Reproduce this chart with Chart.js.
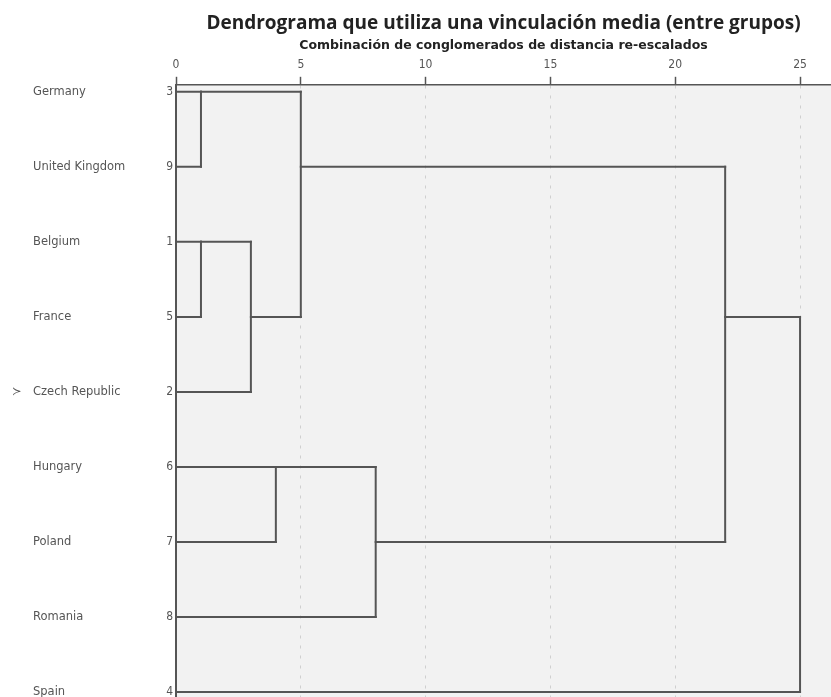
<!DOCTYPE html>
<html>
<head>
<meta charset="utf-8">
<script src="https://cdn.jsdelivr.net/npm/chart.js@4.4.0/dist/chart.umd.min.js"></script>
<style>
html,body{margin:0;padding:0;background:#ffffff;}
#wrap{width:831px;height:697px;}
</style>
</head>
<body>
<div id="wrap"><canvas id="c" width="831" height="697"></canvas></div>
<script>
// ---- data ----
const chartTitle = 'Dendrograma que utiliza una vinculación media (entre grupos)';
const axisTitle = 'Combinación de conglomerados de distancia re-escalados';
const countries = ['Germany', 'United Kingdom', 'Belgium', 'France', 'Czech Republic', 'Hungary', 'Poland', 'Romania', 'Spain'];
const caseNumbers = ['3', '9', '1', '5', '2', '6', '7', '8', '4'];
const markedRow = 4;
const markSymbol = '≻';
const xTickValues = [0, 5, 10, 15, 20, 25];
// agglomeration schedule: ids 0-8 are rows, id 9+s is the cluster formed at stage s
const linkFirst = [0, 2, 10, 5, 9, 12, 13, 15];
const linkSecond = [1, 3, 4, 6, 11, 7, 14, 8];
const linkDistance = [1, 1, 3, 4, 5, 8, 22, 25];

// ---- build dendrogram segments from the schedule ----
const nodes = countries.map((_, i) => ({ row: i, x: 0 }));
const segments = [];
linkDistance.forEach((d, s) => {
  const a = nodes[linkFirst[s]];
  const b = nodes[linkSecond[s]];
  segments.push([{ x: a.x, y: a.row }, { x: d, y: a.row }]);
  segments.push([{ x: b.x, y: b.row }, { x: d, y: b.row }]);
  segments.push([{ x: d, y: a.row }, { x: d, y: b.row }]);
  nodes.push({ row: Math.floor((a.row + b.row) / 2), x: d });
});

const LINE = '#555555';
const datasets = segments.map(seg => ({
  type: 'line',
  data: seg,
  xAxisID: 'x',
  yAxisID: 'yCase',
  borderColor: LINE,
  borderWidth: 2,
  borderCapStyle: 'square',
  pointRadius: 0,
  pointHoverRadius: 0,
  fill: false,
  tension: 0
}));

const plotBg = {
  id: 'plotBg',
  beforeDraw(chart) {
    const { ctx, chartArea: a } = chart;
    ctx.save();
    ctx.fillStyle = '#f2f2f2';
    ctx.fillRect(a.left, a.top, a.right - a.left, a.bottom - a.top);
    ctx.restore();
  }
};

const rowTicks = s => { s.ticks = countries.map((_, i) => ({ value: i })); };
const fitY = w => s => { s.width = w; s.paddingTop = 0; s.paddingBottom = 0; };
const yMin = -7 / 75, yMax = 8 + 5 / 75;
const labelFont = { family: "'DejaVu Sans', sans-serif", size: 11.5 };
const numFont = { family: "'DejaVu Sans Condensed', 'DejaVu Sans', sans-serif", size: 12 };

new Chart(document.getElementById('c'), {
  type: 'scatter',
  data: { datasets },
  plugins: [plotBg],
  options: {
    responsive: false,
    animation: false,
    devicePixelRatio: 1,
    layout: { padding: { left: 12, right: 0, top: 0, bottom: 0 } },
    plugins: {
      legend: { display: false },
      tooltip: { enabled: false },
      title: {
        display: true, text: chartTitle, fullSize: false,
        font: { family: "'Open Sans', sans-serif", weight: 'bold', size: 19 },
        color: '#222', padding: { top: 12, bottom: 1 }
      },
      subtitle: {
        display: true, text: axisTitle, fullSize: false,
        font: { family: "'DejaVu Sans', sans-serif", weight: 'bold', size: 12.5 },
        color: '#222', padding: { top: 2, bottom: 0 }
      }
    },
    scales: {
      x: {
        type: 'linear', position: 'top', min: 0, max: 26.24,
        afterBuildTicks: s => { s.ticks = xTickValues.map(v => ({ value: v })); },
        afterFit: s => { s.height = 32; s.paddingLeft = 0; s.paddingRight = 0; },
        ticks: { padding: 5, font: numFont, color: '#555', maxRotation: 0, autoSkip: false },
        grid: { color: '#cfcfcf', lineWidth: 1, tickLength: 8, tickColor: '#555', tickWidth: 1.5, tickBorderDash: [] },
        border: { color: '#555', width: 1.5, dash: [3, 7] }
      },
      yCase: {
        type: 'linear', position: 'left', weight: 1, min: yMin, max: yMax, reverse: true,
        afterBuildTicks: rowTicks,
        afterFit: fitY(20),
        ticks: { padding: 3, autoSkip: false, font: numFont, color: '#555', callback: v => caseNumbers[v] },
        grid: { display: false, drawTicks: false, tickLength: 0 },
        border: { display: true, color: LINE, width: 2 }
      },
      yNames: {
        type: 'linear', position: 'left', weight: 2, min: yMin, max: yMax, reverse: true,
        afterBuildTicks: rowTicks,
        afterFit: fitY(123),
        ticks: { padding: 0, crossAlign: 'far', autoSkip: false, font: labelFont, color: '#555', callback: v => countries[v] },
        grid: { display: false, drawTicks: false, tickLength: 0 },
        border: { display: false }
      },
      yMark: {
        type: 'linear', position: 'left', weight: 3, min: yMin, max: yMax, reverse: true,
        afterBuildTicks: rowTicks,
        afterFit: fitY(21),
        ticks: { padding: 0, crossAlign: 'far', autoSkip: false, font: labelFont, color: '#555', callback: v => (v === markedRow ? markSymbol : '') },
        grid: { display: false, drawTicks: false, tickLength: 0 },
        border: { display: false }
      }
    }
  }
});
</script>
</body>
</html>
